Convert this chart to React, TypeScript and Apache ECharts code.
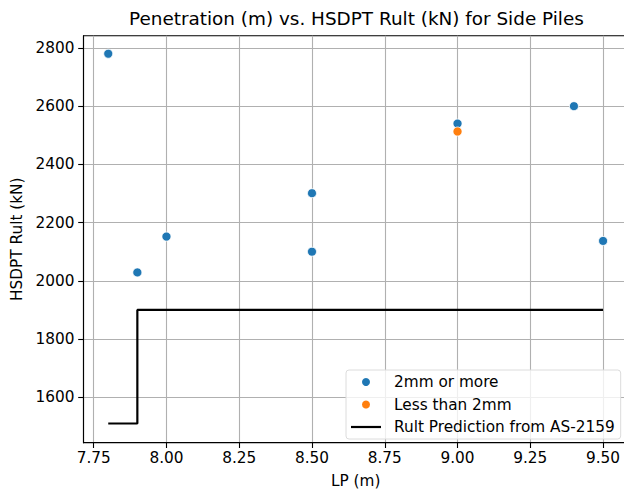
import React, { useEffect, useRef } from "react";
import * as echarts from "echarts";

const titleText = "Penetration (m) vs. HSDPT Rult (kN) for Side Piles";
const xName = "LP (m)";
const yName = "HSDPT Rult (kN)";

const xTicks = [7.75, 8.0, 8.25, 8.5, 8.75, 9.0, 9.25, 9.5];
const yTicks = [1600, 1800, 2000, 2200, 2400, 2600, 2800];

const seriesNames = ["2mm or more", "Less than 2mm", "Rult Prediction from AS-2159"];

const blueLP = [7.8, 7.9, 8.0, 8.5, 8.5, 9.0, 9.4, 9.5];
const blueRult = [2780, 2029, 2152, 2301, 2100, 2540, 2600, 2137];

const orangeLP = [9.0];
const orangeRult = [2513];

const predLP = [7.8, 7.9, 7.9, 9.5];
const predRult = [1510, 1510, 1900, 1900];

const FONT = "DejaVu Sans";
const FS = 15.3;

export default function App() {
  const ref = useRef<HTMLDivElement>(null);

  useEffect(() => {
    document.body.style.margin = "0";
    if (!ref.current) return;
    const chart = echarts.init(ref.current, null, { renderer: "svg" });
    const zip = (xs: number[], ys: number[]) => xs.map((x, i) => [x, ys[i]]);

    chart.setOption({
      animation: false,
      backgroundColor: "#fff",
      textStyle: { fontFamily: FONT },
      title: {
        text: titleText,
        left: 129,
        top: 9,
        padding: 0,
        textStyle: { fontFamily: FONT, fontSize: 18.4, fontWeight: "normal", color: "#000" },
      },
      grid: {
        left: 83.5,
        top: 35.7,
        right: -3.8,
        bottom: 46.3,
        containLabel: false,
        outerBoundsMode: "none",
        show: true,
        borderColor: "#000",
        borderWidth: 1.1,
        backgroundColor: "transparent",
      },
      xAxis: {
        type: "value",
        min: 7.715,
        max: 9.585,
        name: xName,
        nameLocation: "middle",
        nameGap: 31,
        nameTextStyle: { fontFamily: FONT, fontSize: FS, color: "#000" },
        axisLine: { show: true, lineStyle: { color: "#000", width: 1.1 } },
        axisTick: { show: true, inside: false, length: 5.3, customValues: xTicks, lineStyle: { color: "#000", width: 1.1 } },
        axisLabel: {
          customValues: xTicks,
          margin: 8,
          fontFamily: FONT,
          fontSize: FS,
          color: "#000",
          formatter: (v: number) => v.toFixed(2),
        },
        splitLine: { show: true, lineStyle: { color: "#b0b0b0", width: 1.1 } },
      },
      yAxis: {
        type: "value",
        min: 1444,
        max: 2842,
        name: yName,
        nameLocation: "middle",
        nameGap: 57,
        nameTextStyle: { fontFamily: FONT, fontSize: FS, color: "#000" },
        axisLine: { show: true, lineStyle: { color: "#000", width: 1.1 } },
        axisTick: { show: true, inside: false, length: 5.3, customValues: yTicks, lineStyle: { color: "#000", width: 1.1 } },
        axisLabel: {
          customValues: yTicks,
          margin: 9,
          fontFamily: FONT,
          fontSize: FS,
          color: "#000",
          formatter: (v: number) => String(Math.round(v)),
        },
        splitLine: { show: true, lineStyle: { color: "#b0b0b0", width: 1.1 } },
      },
      legend: {
        orient: "vertical",
        left: 346,
        top: 370,
        align: "left",
        padding: [4, 6, 4, 5],
        itemGap: 6.5,
        itemWidth: 30,
        itemHeight: 10,
        backgroundColor: "rgba(255,255,255,0.8)",
        borderColor: "#dcdcdc",
        borderWidth: 1,
        borderRadius: 3,
        textStyle: { fontFamily: FONT, fontSize: FS, color: "#000", lineHeight: 16, padding: [0, 0, 0, 8] },
        data: [
          { name: seriesNames[0], icon: "circle" },
          { name: seriesNames[1], icon: "circle" },
          { name: seriesNames[2], icon: "path://M0,0H30V2.2H0Z" },
        ],
      },
      series: [
        {
          name: seriesNames[0],
          type: "scatter",
          data: zip(blueLP, blueRult),
          symbol: "circle",
          symbolSize: 9,
          itemStyle: { color: "#1f77b4", borderColor: "#fff", borderWidth: 0.8, opacity: 1 },
          z: 3,
        },
        {
          name: seriesNames[1],
          type: "scatter",
          data: zip(orangeLP, orangeRult),
          symbol: "circle",
          symbolSize: 9,
          itemStyle: { color: "#ff7f0e", borderColor: "#fff", borderWidth: 0.8, opacity: 1 },
          z: 3,
        },
        {
          name: seriesNames[2],
          type: "line",
          data: zip(predLP, predRult),
          symbol: "none",
          lineStyle: { color: "#000", width: 2.2 },
          itemStyle: { color: "#000" },
          z: 2,
        },
      ],
    });

    return () => chart.dispose();
  }, []);

  return <div ref={ref} style={{ width: 624, height: 489 }} />;
}
